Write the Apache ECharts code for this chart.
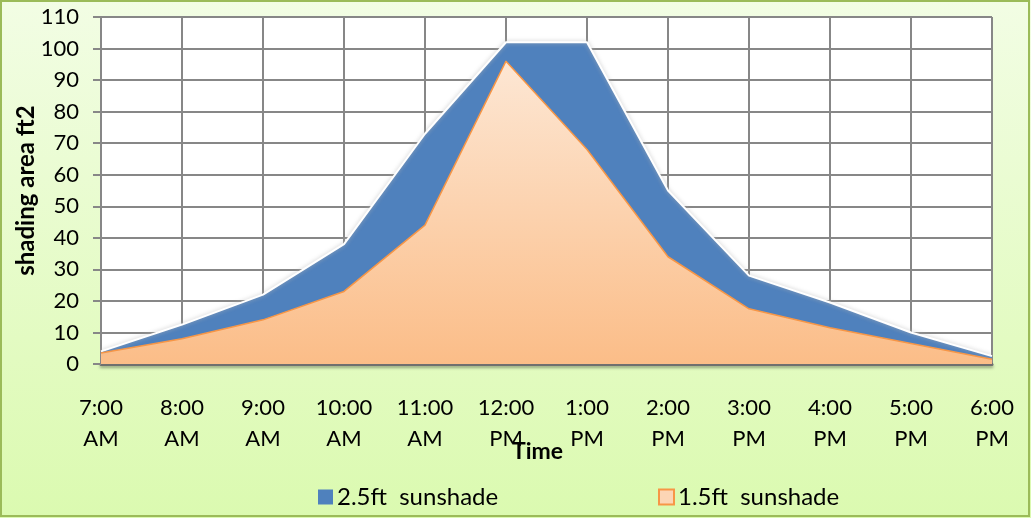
<!DOCTYPE html>
<html><head><meta charset="utf-8">
<script src="https://cdn.jsdelivr.net/npm/echarts@6/dist/echarts.min.js"></script>
<style>html,body{margin:0;padding:0;}#c{width:1031px;height:518px;}</style>
</head><body><div id="c"></div>
<script>
const categories = ['7:00\nAM','8:00\nAM','9:00\nAM','10:00\nAM','11:00\nAM','12:00\nPM','1:00\nPM','2:00\nPM','3:00\nPM','4:00\nPM','5:00\nPM','6:00\nPM'];
const sunshade25 = [4, 12.5, 22, 38, 73, 102, 102, 55, 28, 19.5, 10, 2.5];
const sunshade15 = [3.5, 8, 14, 23, 44, 96, 68, 34, 17.5, 11.5, 6.5, 1.5];
const yTicks = {min: 0, max: 110, interval: 10};
const FONT = 'Lato, "Open Sans", sans-serif';

const chart = echarts.init(document.getElementById('c'));
chart.setOption({
  animation: false,
  backgroundColor: new echarts.graphic.LinearGradient(0,0,0,1,[{offset:0,color:'#f2fde4'},{offset:1,color:'#dbfab0'}]),
  graphic: [{type:'rect', shape:{x:1,y:1,width:1028,height:515}, style:{fill:'none', stroke:'#9bbb59', lineWidth:2}, silent:true}],
  grid: {left: 101, right: 39, top: 17, bottom: 154, backgroundColor:'#ffffff', show:true, borderWidth:0},
  legend: [
    {data:['2.5ft  sunshade'], left: 313, top: 480, itemWidth:15, itemHeight:15, itemGap:6, textStyle:{fontFamily:FONT, fontSize:24, color:'#000', padding:[0,0,0,-1]}, icon:'rect'},
    {data:['1.5ft  sunshade'], left: 653, top: 480, itemWidth:15, itemHeight:15, textStyle:{fontFamily:FONT, fontSize:24, color:'#000', padding:[0,0,0,-1]}, icon:'rect'}
  ],
  xAxis: {
    type:'category', data: categories, boundaryGap:false,
    name:'Time', nameLocation:'middle', nameGap: 76, nameMoveOverlap: false,
    nameTextStyle:{fontFamily:FONT, fontSize:23, fontWeight:'bold', color:'#000', padding:[0,18,0,0]},
    axisLine:{show:true, lineStyle:{color:'#6f6f6f', width:3, shadowColor:'rgba(0,0,0,0.35)', shadowBlur:3, shadowOffsetY:2}},
    axisTick:{show:false},
    axisLabel:{fontFamily:FONT, fontSize:22, color:'#000', margin:28, lineHeight:31, interval:0},
    splitLine:{show:true, lineStyle:{color:'#878787', width:2}}
  },
  yAxis: {
    type:'value', min: yTicks.min, max: yTicks.max, interval: yTicks.interval,
    name:'shading area ft2', nameLocation:'middle', nameGap: 63, nameRotate: 90, nameMoveOverlap: false,
    nameTextStyle:{fontFamily:FONT, fontSize:24, fontWeight:'bold', color:'#000'},
    axisLine:{show:true, lineStyle:{color:'#878787', width:2}},
    axisTick:{show:true, length:8, lineStyle:{color:'#878787', width:2}},
    axisLabel:{fontFamily:FONT, fontSize:22, color:'#000', margin:22},
    splitLine:{show:true, lineStyle:{color:'#878787', width:2}}
  },
  series: [
    {name:'2.5ft  sunshade', type:'line', data: sunshade25, symbol:'none',
     itemStyle:{color:'#4f81bd'},
     lineStyle:{color:'#ffffff', width:2, shadowColor:'rgba(180,180,180,0.8)', shadowBlur:4},
     areaStyle:{color:'#4f81bd', opacity:1}},
    {name:'1.5ft  sunshade', type:'line', data: sunshade15, symbol:'none',
     itemStyle:{color:'#fcd5b5', borderColor:'#f79646', borderWidth:2},
     lineStyle:{color:'#f79646', width:1.5},
     areaStyle:{color:new echarts.graphic.LinearGradient(0,0,0,1,[{offset:0,color:'#fde7d4'},{offset:1,color:'#fbbd88'}]), opacity:1}}
  ]
});
</script></body></html>
